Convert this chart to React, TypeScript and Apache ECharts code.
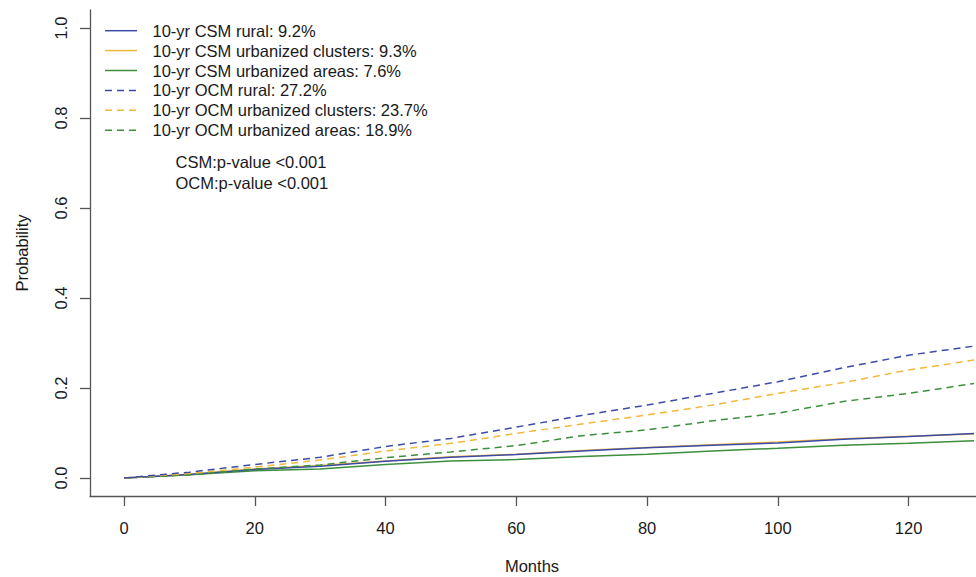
import React, { useEffect, useRef } from "react";
import * as echarts from "echarts";

const months = [0, 10, 20, 30, 40, 50, 60, 70, 80, 90, 100, 110, 120, 130];

const csmRural = [0, 0.008, 0.019, 0.026, 0.037, 0.046, 0.052, 0.06, 0.067, 0.073, 0.078, 0.086, 0.092, 0.099];
const csmClusters = [0, 0.008, 0.02, 0.028, 0.038, 0.047, 0.053, 0.061, 0.068, 0.074, 0.08, 0.087, 0.093, 0.098];
const csmAreas = [0, 0.007, 0.016, 0.02, 0.03, 0.038, 0.041, 0.048, 0.053, 0.06, 0.066, 0.073, 0.077, 0.083];
const ocmRural = [0, 0.013, 0.03, 0.046, 0.07, 0.088, 0.113, 0.139, 0.162, 0.188, 0.214, 0.245, 0.273, 0.293];
const ocmClusters = [0, 0.01, 0.024, 0.04, 0.06, 0.077, 0.099, 0.12, 0.14, 0.162, 0.188, 0.212, 0.24, 0.262];
const ocmAreas = [0, 0.007, 0.02, 0.029, 0.045, 0.058, 0.072, 0.094, 0.107, 0.127, 0.144, 0.17, 0.188, 0.21];

const xTicks = [0, 20, 40, 60, 80, 100, 120];
const yTicks = [0, 0.2, 0.4, 0.6, 0.8, 1.0];

const legendLabels = [
  "10-yr CSM rural: 9.2%",
  "10-yr CSM urbanized clusters: 9.3%",
  "10-yr CSM urbanized areas: 7.6%",
  "10-yr OCM rural: 27.2%",
  "10-yr OCM urbanized clusters: 23.7%",
  "10-yr OCM urbanized areas: 18.9%",
];
const pLabels = ["CSM:p-value <0.001", "OCM:p-value <0.001"];

const BLUE = "#3b4ba8";
const ORANGE = "#f0b83c";
const GREEN = "#3c8f3c";
const AXIS = "#555555";
const FONT = "'Liberation Sans', Arial, sans-serif";

const legendColors = [BLUE, ORANGE, GREEN, BLUE, ORANGE, GREEN];
const legendDashed = [false, false, false, true, true, true];

export default function App() {
  const ref = useRef<HTMLDivElement>(null);
  useEffect(() => {
    document.body.style.margin = "0";
    document.body.style.overflow = "hidden";
    if (!ref.current) return;
    const chart = echarts.init(ref.current, undefined, { renderer: "svg" });
    const mk = (name: string, vals: number[], color: string, dashed: boolean) => ({
      name,
      type: "line",
      data: months.map((m, i) => [m, vals[i]]),
      showSymbol: false,
      symbol: "none",
      lineStyle: { color, width: 1.5, type: dashed ? [7, 5] : "solid" },
      itemStyle: { color },
      z: 2,
    });
    const graphics: any[] = [];
    legendLabels.forEach((t, i) => {
      const y = 30.7 + i * 19.9;
      graphics.push({
        type: "line",
        shape: { x1: 105, y1: y, x2: 137, y2: y },
        style: {
          stroke: legendColors[i],
          lineWidth: 1.5,
          lineDash: legendDashed[i] ? [7, 5] : null,
        },
      });
      graphics.push({
        type: "text",
        x: 152.5,
        y,
        style: {
          text: t,
          font: `16.5px ${FONT}`,
          fill: "#1a1a1a",
          verticalAlign: "middle",
        },
      });
    });
    pLabels.forEach((t, i) => {
      graphics.push({
        type: "text",
        x: 175.5,
        y: 162.3 + i * 21,
        style: {
          text: t,
          font: `16.5px ${FONT}`,
          fill: "#1a1a1a",
          verticalAlign: "middle",
        },
      });
    });
    graphics.push({
      type: "text",
      x: 532,
      y: 566,
      style: { text: "Months", font: `16.5px ${FONT}`, fill: "#1a1a1a", align: "center", verticalAlign: "middle" },
    });
    graphics.push({
      type: "text",
      x: 22,
      y: 253,
      rotation: Math.PI / 2,
      style: { text: "Probability", font: `16.5px ${FONT}`, fill: "#1a1a1a", align: "center", verticalAlign: "middle" },
    });

    chart.setOption({
      animation: false,
      backgroundColor: "#ffffff",
      grid: { left: 90, right: 0, top: 10, bottom: 81, containLabel: false },
      xAxis: {
        type: "value",
        min: -5.2,
        max: 135.2,
        axisLine: { show: true, onZero: false, lineStyle: { color: AXIS, width: 1.3 } },
        axisTick: { show: true, customValues: xTicks, length: 10, lineStyle: { color: AXIS, width: 1.3 } },
        axisLabel: {
          customValues: xTicks,
          margin: 23,
          fontSize: 16.5,
          fontFamily: FONT,
          color: "#1a1a1a",
        },
        splitLine: { show: false },
      },
      yAxis: {
        type: "value",
        min: -0.04,
        max: 1.04,
        axisLine: { show: true, onZero: false, lineStyle: { color: AXIS, width: 1.3 } },
        axisTick: { show: true, customValues: yTicks, length: 10, lineStyle: { color: AXIS, width: 1.3 } },
        axisLabel: {
          customValues: yTicks,
          rotate: 90,
          margin: 21,
          fontSize: 16.5,
          fontFamily: FONT,
          color: "#1a1a1a",
          formatter: (v: number) => v.toFixed(1),
        },
        splitLine: { show: false },
      },
      series: [
        mk("CSM urbanized areas", csmAreas, GREEN, false),
        mk("CSM urbanized clusters", csmClusters, ORANGE, false),
        mk("CSM rural", csmRural, BLUE, false),
        mk("OCM urbanized areas", ocmAreas, GREEN, true),
        mk("OCM urbanized clusters", ocmClusters, ORANGE, true),
        mk("OCM rural", ocmRural, BLUE, true),
      ],
      graphic: graphics,
    });
    return () => chart.dispose();
  }, []);
  return (
    <div style={{ width: 976, height: 577, overflow: "hidden" }}>
      <div ref={ref} style={{ width: 1008, height: 577 }} />
    </div>
  );
}
